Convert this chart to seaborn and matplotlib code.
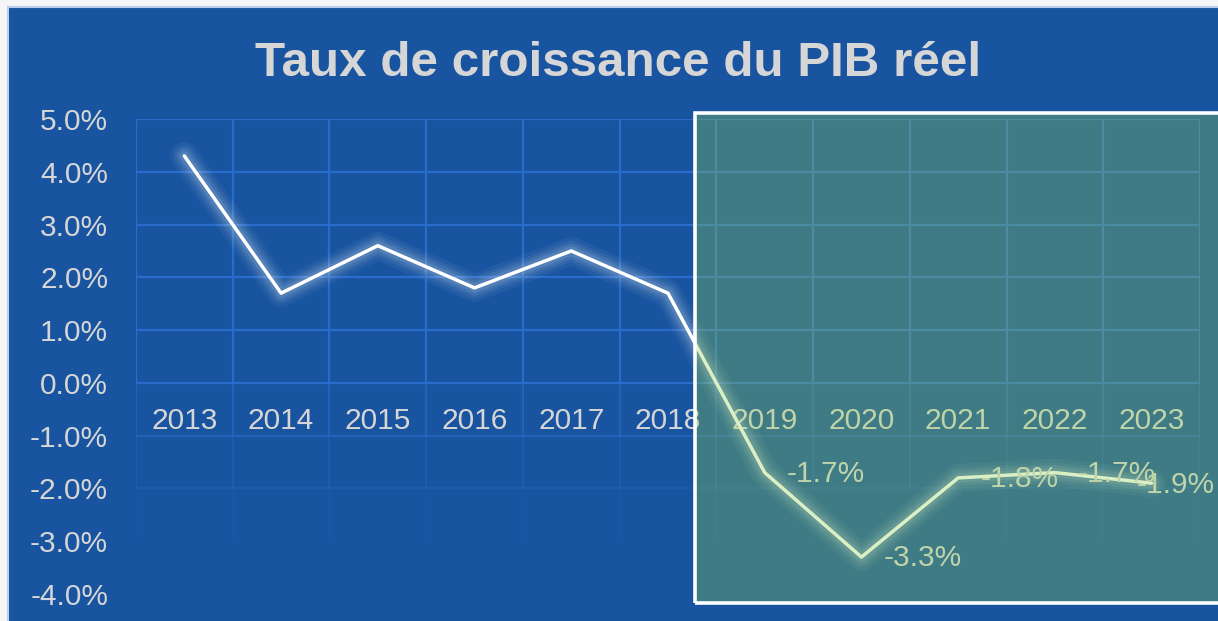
import seaborn as sns
import matplotlib.pyplot as plt
import pandas as pd
import numpy as np
from matplotlib.patches import Rectangle

# data
annees = ['2013', '2014', '2015', '2016', '2017', '2018',
          '2019', '2020', '2021', '2022', '2023']
taux = [4.3, 1.7, 2.6, 1.8, 2.5, 1.7, -1.7, -3.3, -1.8, -1.7, -1.9]
annees_labels = ['2019', '2020', '2021', '2022', '2023']
yticks = [5, 4, 3, 2, 1, 0, -1, -2, -3, -4]
titre = "Taux de croissance du PIB réel"

df = pd.DataFrame({'annee': annees, 'taux': taux})

sns.set_style("white")
plt.rcParams['font.family'] = ['Liberation Sans', 'DejaVu Sans']

bleu = '#1854a0'
grille = '#2a6ccb'
gris = '#d6d6d6'

W, H = 1218, 621
fig = plt.figure(figsize=(W / 100, H / 100), dpi=100)
fig.patch.set_facecolor('#f5f5f5')
fig.add_artist(Rectangle((8 / W, -0.1), 1.2, 1 - 7 / H + 0.1,
                         transform=fig.transFigure, facecolor=bleu,
                         edgecolor='#b9cfec', lw=1.5, zorder=-1))

ax = fig.add_axes([136 / W, 1 - 594 / H, (1200 - 136) / W, (594 - 119) / H])
ax.set_facecolor('none')

# glow under the line
for lw, a in [(20, 0.05), (15, 0.06), (11, 0.08), (7, 0.1)]:
    sns.lineplot(data=df, x='annee', y='taux', ax=ax, color='white',
                 lw=lw, alpha=a, solid_capstyle='round', sort=False)
sns.lineplot(data=df, x='annee', y='taux', ax=ax, color='white', lw=2.5,
             sort=False, zorder=5)

ax.set_xlim(-0.5, len(annees) - 0.5)
ax.set_ylim(-4, 5)

# fading grid
def fade(y):
    return 1.0 if y >= 0 else {-1: 0.55, -2: 0.25}.get(y, 0)

for y in yticks:
    if fade(y) > 0:
        ax.axhline(y, color=grille, lw=1.6, alpha=fade(y), zorder=1)
for x in np.arange(-0.5, len(annees)):
    ax.vlines(x, 0, 5, color=grille, lw=1.6, zorder=1)
    ax.vlines(x, -1, 0, color=grille, lw=1.6, alpha=0.55, zorder=1)
    ax.vlines(x, -2, -1, color=grille, lw=1.6, alpha=0.3, zorder=1)
    ax.vlines(x, -3, -2, color=grille, lw=1.6, alpha=0.12, zorder=1)

for s in ax.spines.values():
    s.set_visible(False)
ax.spines['bottom'].set_position(('data', 0))

ax.set_yticks(yticks)
ax.set_yticklabels([f"{v:.1f}%" for v in yticks])
ax.tick_params(axis='y', length=0, pad=20, labelsize=21.5, labelcolor=gris)
ax.tick_params(axis='x', length=0, pad=17.5, labelsize=21.5, labelcolor=gris)
ax.set_xlabel('')
ax.set_ylabel('')

# data labels for the highlighted years (last one pushed left to fit)
for an, v in zip(annees, taux):
    if an in annees_labels:
        dx = 16 if an != annees[-1] else -11
        ax.annotate(f"{v:.1f}%", (annees.index(an), v), xytext=(dx, -1),
                    textcoords='offset points', ha='left', va='center',
                    color=gris, fontsize=21.5, zorder=6, annotation_clip=False)

fig.text(618 / W, 1 - 76 / H, titre, ha='center', va='baseline',
         fontsize=35.6, fontweight='bold', color=gris)

# highlight box
x0, y0, y1 = 695 / W, 1 - 603 / H, 1 - 113 / H
fig.add_artist(Rectangle((x0, y0), 1.0, y1 - y0, transform=fig.transFigure,
                         facecolor=(145 / 255, 208 / 255, 76 / 255, 0.32),
                         edgecolor='none', zorder=3))
fig.add_artist(Rectangle((x0, y0), 1.0, y1 - y0, transform=fig.transFigure,
                         facecolor='none', edgecolor='white', lw=2.6, zorder=4))

fig.savefig('out.png', dpi=100, facecolor=fig.get_facecolor())
